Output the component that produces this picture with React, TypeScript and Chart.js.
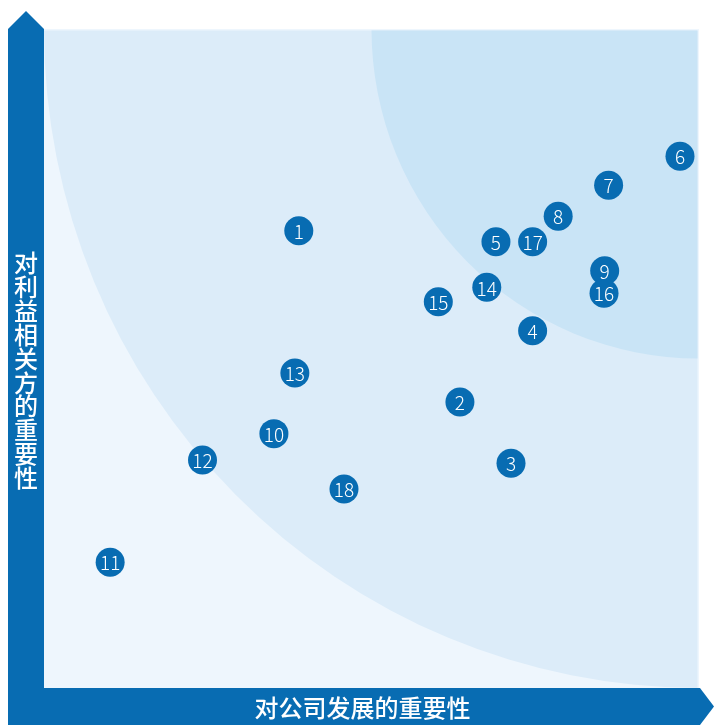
import React, { useEffect, useRef } from "react";
import { Chart, registerables } from "chart.js";

Chart.register(...registerables);

const issueLabels = ["1", "2", "3", "4", "5", "6", "7", "8", "9", "10", "11", "12", "13", "14", "15", "16", "17", "18"];
const companyImportance = [38.9, 63.5, 71.3, 74.6, 69.0, 97.1, 86.2, 78.5, 85.6, 35.1, 10.1, 24.2, 38.3, 67.6, 60.2, 85.5, 74.6, 45.8];
const stakeholderImportance = [69.4, 43.4, 34.1, 54.2, 67.7, 80.7, 76.3, 71.6, 63.3, 38.6, 19.1, 34.6, 47.8, 60.8, 58.6, 59.9, 67.7, 30.2];
const xAxisTitle = "对公司发展的重要性";
const yAxisTitle = "对利益相关方的重要性";

const BLUE = "#086cb2";
const BG_OUTER = "#eef6fd";
const BG_MID = "#dcecf9";
const BG_INNER = "#c9e4f6";
const FONT = "'Noto Sans CJK SC', 'Noto Sans', sans-serif";

const matrixPlugin = {
  id: "matrixDecor",
  beforeDraw(chart: any) {
    const { ctx, chartArea, scales } = chart;
    const xs = scales.x;
    const ys = scales.y;
    const { left, right, top, bottom } = chartArea;
    const cx = xs.getPixelForValue(100);
    const cy = ys.getPixelForValue(100);
    ctx.save();
    ctx.fillStyle = BG_OUTER;
    ctx.fillRect(left, top, right - left, bottom - top);
    ctx.beginPath();
    ctx.rect(left, top + 1.5, right - left - 1.5, bottom - top - 1.5);
    ctx.clip();
    const rx1 = cx - xs.getPixelForValue(0);
    const ry1 = ys.getPixelForValue(0) - cy;
    ctx.fillStyle = BG_MID;
    ctx.beginPath();
    ctx.ellipse(cx, cy, rx1, ry1, 0, 0, Math.PI * 2);
    ctx.fill();
    const rx2 = cx - xs.getPixelForValue(50);
    const ry2 = ys.getPixelForValue(50) - cy;
    ctx.fillStyle = BG_INNER;
    ctx.beginPath();
    ctx.ellipse(cx, cy, rx2, ry2, 0, 0, Math.PI * 2);
    ctx.fill();
    ctx.restore();

    const W = chart.width;
    const H = chart.height;
    ctx.save();
    ctx.fillStyle = BLUE;
    const vl = 8;
    const vr = left;
    ctx.beginPath();
    ctx.moveTo(vl, H);
    ctx.lineTo(vl, top);
    ctx.lineTo((vl + vr) / 2, top - 18);
    ctx.lineTo(vr, top);
    ctx.lineTo(vr, H);
    ctx.closePath();
    ctx.fill();
    const ht = bottom;
    const hb = H;
    ctx.beginPath();
    ctx.moveTo(vl, ht);
    ctx.lineTo(right + 1, ht);
    ctx.lineTo(W, (ht + hb) / 2);
    ctx.lineTo(right + 1, hb);
    ctx.lineTo(vl, hb);
    ctx.closePath();
    ctx.fill();

    ctx.fillStyle = "#ffffff";
    ctx.font = `500 24px ${FONT}`;
    ctx.textAlign = "center";
    ctx.textBaseline = "middle";
    ctx.fillText(xAxisTitle, 362.5, (ht + hb) / 2 + 1);
    const chars = Array.from(yAxisTitle);
    const step = 23.9;
    const midY = 370.5;
    const startY = midY - ((chars.length - 1) * step) / 2;
    chars.forEach((c, i) => {
      ctx.fillText(c, (vl + vr) / 2, startY + i * step);
    });
    ctx.restore();
  },
  afterDatasetsDraw(chart: any) {
    const { ctx } = chart;
    const meta = chart.getDatasetMeta(0);
    ctx.save();
    ctx.fillStyle = "#ffffff";
    ctx.font = `300 19px ${FONT}`;
    ctx.textAlign = "center";
    ctx.textBaseline = "middle";
    meta.data.forEach((el: any, i: number) => {
      ctx.fillText(issueLabels[i], el.x, el.y + 1);
    });
    ctx.restore();
  },
};

export default function App() {
  const canvasRef = useRef<HTMLCanvasElement | null>(null);

  useEffect(() => {
    document.body.style.margin = "0";
    const canvas = canvasRef.current;
    if (!canvas) return;
    const chart = new Chart(canvas, {
      type: "scatter",
      data: {
        labels: issueLabels,
        datasets: [
          {
            data: companyImportance.map((x, i) => ({ x, y: stakeholderImportance[i] })),
            backgroundColor: BLUE,
            borderWidth: 0,
            pointRadius: 14.5,
            pointHoverRadius: 14.5,
          },
        ],
      },
      options: {
        responsive: false,
        animation: false,
        events: [],
        layout: { padding: { left: 44, right: 15, top: 29, bottom: 37 } },
        plugins: { legend: { display: false }, tooltip: { enabled: false } },
        scales: {
          x: { type: "linear", min: 0, max: 100, display: false },
          y: { type: "linear", min: 0, max: 100, display: false },
        },
      },
      plugins: [matrixPlugin],
    });
    return () => chart.destroy();
  }, []);

  return (
    <div style={{ width: 714, height: 725, overflow: "hidden" }}>
      <canvas ref={canvasRef} width={714} height={725} style={{ display: "block" }} />
    </div>
  );
}
